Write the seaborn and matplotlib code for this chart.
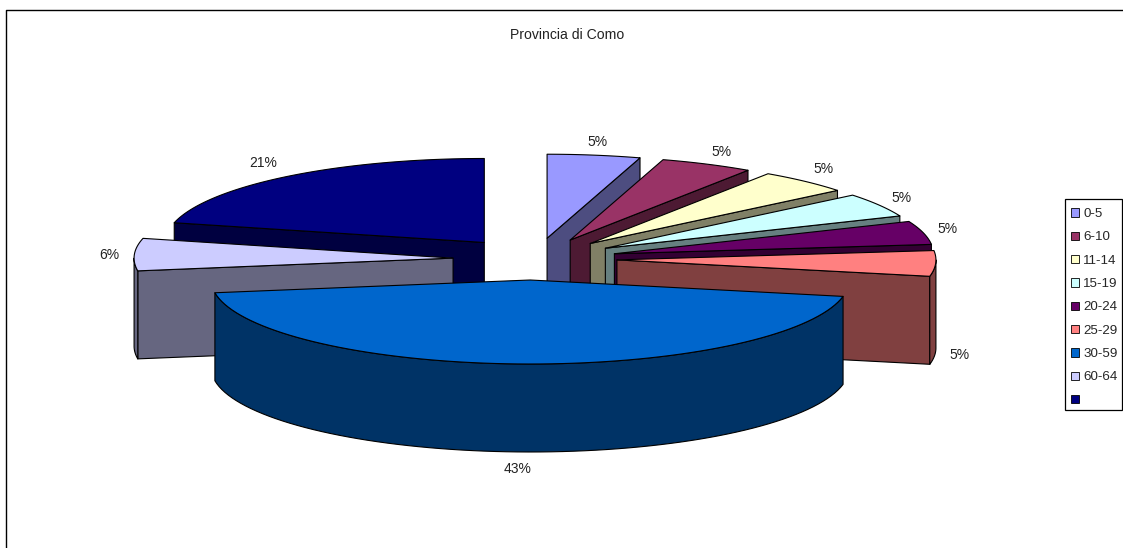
import numpy as np
import matplotlib
matplotlib.use('Agg')
import matplotlib.pyplot as plt
from matplotlib.patches import Polygon, Patch, Rectangle
import seaborn as sns

# data (shares follow the drawn wedges, labels are what the chart prints)
age_groups = ['0-5', '6-10', '11-14', '15-19', '20-24', '25-29', '30-59', '60-64', ' ']
shares     = [4.7, 4.7, 4.7, 4.6, 4.5, 4.9, 44.4, 6.2, 21.2]
pct_labels = ['5%', '5%', '5%', '5%', '5%', '5%', '43%', '6%', '21%']
top_colors = ['#9999FF', '#993366', '#FFFFCC', '#CCFFFF', '#660066',
              '#FF8080', '#0066CC', '#CCCCFF', '#000080']

# layout, in pixels of the 1123x548 picture
CX, CY = 535, 259
RX, RY = 319, 84
EX, EY = 82, 21
DEPTH = 88
LABEL_XY = [(598, 142), (721, 152), (823, 169), (901, 198), (947, 229),
            (960, 355), (518, 469), (109, 255), (263, 163)]
DRAW_ORDER = [8, 0, 1, 2, 3, 4, 5, 7, 6]
NUDGE_X = {6: -3}

sns.set_theme(style='white')
plt.rcParams['font.family'] = ['Liberation Sans', 'DejaVu Sans']
palette = sns.color_palette(top_colors)
side_colors = [tuple(c * 0.5 for c in col) for col in palette]


def ell(cx, cy, deg):
    t = np.radians(deg)
    return np.column_stack([cx + RX * np.sin(t), cy - RY * np.cos(t)])


def draw_slice(ax, start, end, top, side, nudge=0):
    mid = np.radians((start + end) / 2)
    cx = CX + EX * np.sin(mid) + nudge
    cy = CY - EY * np.cos(mid)
    down = np.array([0, DEPTH])
    apex = np.array([[cx, cy]])
    style = dict(edgecolor='black', linewidth=0.8, joinstyle='round')

    # side faces that look towards the viewer
    if start > 180:
        edge = np.vstack([apex, ell(cx, cy, start)])
        ax.add_patch(Polygon(np.vstack([edge, edge[::-1] + down]), facecolor=side, **style))
    if end < 180:
        edge = np.vstack([apex, ell(cx, cy, end)])
        ax.add_patch(Polygon(np.vstack([edge, edge[::-1] + down]), facecolor=side, **style))
    lo, hi = max(start, 90), min(end, 270)
    if lo < hi:
        arc = ell(cx, cy, np.linspace(lo, hi, 80))
        ax.add_patch(Polygon(np.vstack([arc, arc[::-1] + down]), facecolor=side, **style))

    arc = ell(cx, cy, np.linspace(start, end, 80))
    ax.add_patch(Polygon(np.vstack([apex, arc]), facecolor=top, **style))


fig = plt.figure(figsize=(11.23, 5.48), dpi=100)
ax = fig.add_axes([0, 0, 1, 1])
ax.set_xlim(0, 1123)
ax.set_ylim(548, 0)
ax.axis('off')

# chart area border, only top and left fall inside the crop
ax.plot([6, 6, 1123], [548, 10, 10], color='black', linewidth=1.0)

angles = np.concatenate([[0], np.cumsum(shares)]) / np.sum(shares) * 360
for i in DRAW_ORDER:
    draw_slice(ax, angles[i], angles[i + 1], palette[i], side_colors[i], NUDGE_X.get(i, 0))

for txt, (x, y) in zip(pct_labels, LABEL_XY):
    ax.text(x, y, txt, fontsize=10, color='#222222', ha='center', va='center')

ax.text(567.5, 35, 'Provincia di Como', fontsize=10.1, color='#222222', ha='center', va='center')

# legend box drawn apart, its padding is not even in the original
ax.add_patch(Rectangle((1065, 199), 56.5, 211, facecolor='white', edgecolor='black', linewidth=0.9))
handles = [Patch(facecolor=c, edgecolor='black', linewidth=0.6) for c in palette]
ax.legend(handles, age_groups, loc='upper left', bbox_to_anchor=(1065, 202),
          bbox_transform=ax.transData, fontsize=9.6, frameon=False,
          labelspacing=0.85, handlelength=0.6, handleheight=0.6,
          handletextpad=0.32, borderpad=0.46, borderaxespad=0)

fig.savefig('out.png', dpi=100)
